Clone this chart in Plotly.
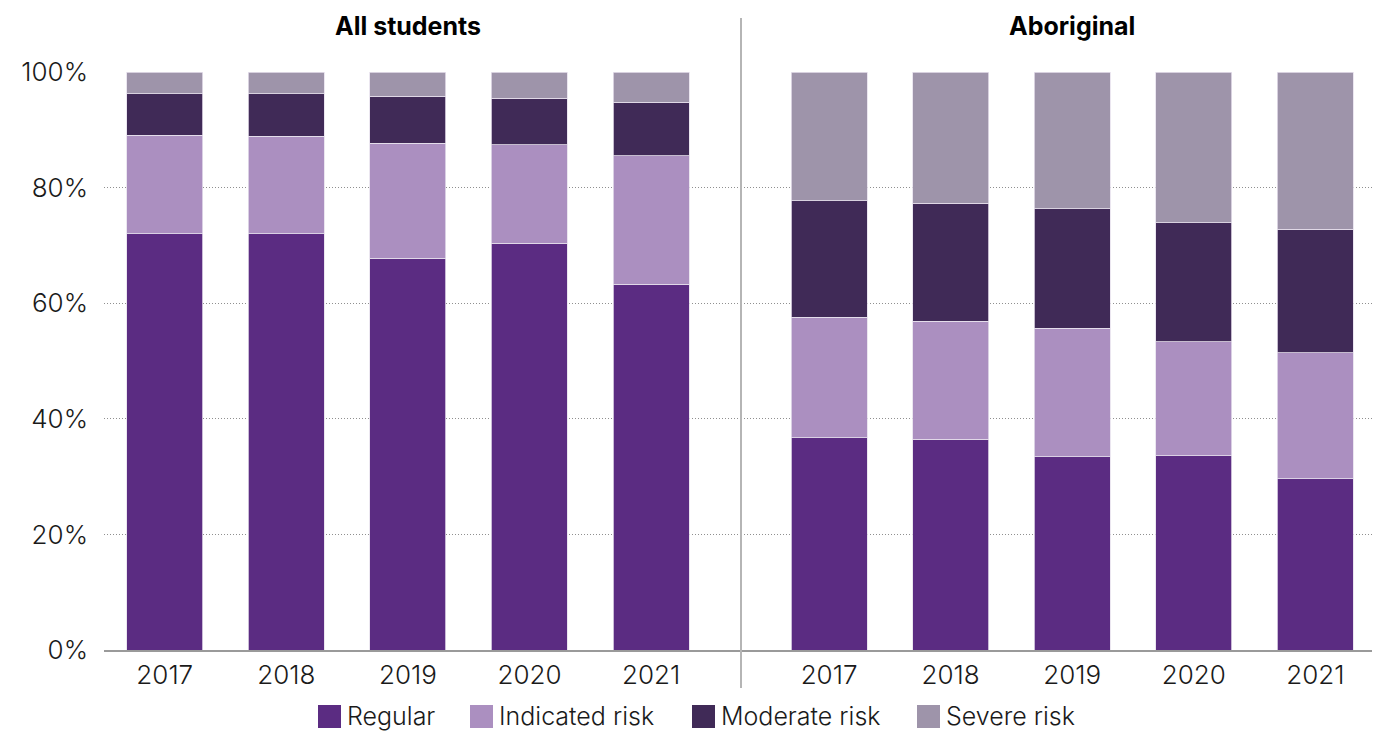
import plotly.graph_objects as go
from plotly.subplots import make_subplots

years = ["2017", "2018", "2019", "2020", "2021"]
panels = ["All students", "Aboriginal"]
series = ["Regular", "Indicated risk", "Moderate risk", "Severe risk"]
colors = ["#5B2C82", "#AB8FC0", "#402A57", "#9E94AA"]
y_ticks = [0, 20, 40, 60, 80, 100]
y_tick_labels = ["0%", "20%", "40%", "60%", "80%", "100%"]

# Share of students in each category (%), per year
all_regular = [72.0, 72.0, 67.8, 70.4, 63.3]
all_indicated = [17.1, 16.9, 19.9, 17.0, 22.2]
all_moderate = [7.1, 7.3, 8.1, 8.1, 9.3]
all_severe = [3.8, 3.8, 4.2, 4.5, 5.2]

abo_regular = [36.7, 36.5, 33.4, 33.6, 29.6]
abo_indicated = [20.9, 20.4, 22.3, 19.7, 21.8]
abo_moderate = [20.1, 20.4, 20.6, 20.6, 21.4]
abo_severe = [22.3, 22.7, 23.7, 26.1, 27.2]

panel_data = [
    [all_regular, all_indicated, all_moderate, all_severe],
    [abo_regular, abo_indicated, abo_moderate, abo_severe],
]

FONT = "Inter"
TXT = "#1a1a1a"
FS = 26
W, H = 1373, 733
ML, MR, MT, MB = 104, 1, 72, 83
PW, PH = W - ML - MR, H - MT - MB


def px_x(x):
    return (x - ML) / PW


def px_y(y):
    return (H - MB - y) / PH


fig = make_subplots(rows=1, cols=2, shared_yaxes=True, horizontal_spacing=0,
                    column_widths=[637, 631])

for p, data in enumerate(panel_data):
    for s, vals in enumerate(data):
        fig.add_trace(go.Bar(
            x=years, y=vals, name=series[s],
            marker=dict(color=colors[s], line=dict(color="#E6E0EC", width=0.8)),
            width=0.625, showlegend=False,
        ), row=1, col=p + 1)

fig.update_layout(
    barmode="stack",
    width=W, height=H,
    margin=dict(l=ML, r=MR, t=MT, b=MB, autoexpand=False),
    paper_bgcolor="white", plot_bgcolor="white",
    font=dict(family=FONT, size=FS, color=TXT, weight=300),
    showlegend=False,
)

ax_common = dict(showgrid=False, showline=True, linecolor="#9a9a9a", linewidth=1.5,
                 ticks="", ticklabelstandoff=1,
                 tickfont=dict(size=FS, family=FONT, color=TXT, weight=300))
fig.update_xaxes(range=[-0.5, 4.74], **ax_common, row=1, col=1)
fig.update_xaxes(range=[-0.724, 4.465], **ax_common, row=1, col=2)

fig.update_yaxes(range=[0, 100], tickvals=y_ticks, ticktext=y_tick_labels,
                 showgrid=True, gridcolor="#8f8f8f", gridwidth=1, griddash="1px,2px",
                 zeroline=False, showline=False, ticks="",
                 ticklabelstandoff=15,
                 tickfont=dict(size=FS, family=FONT, color=TXT, weight=300))

# Panel titles
for p, title in enumerate(panels):
    fig.add_annotation(
        x=2, y=1, xref="x" if p == 0 else "x2", yref="paper",
        yanchor="bottom", yshift=29, showarrow=False,
        text=f"<b>{title}</b>",
        font=dict(size=25, family=FONT, color="#000000", weight=700),
    )

# Divider between the two panels
fig.add_shape(type="line", xref="paper", yref="paper",
              x0=637 / PW, x1=637 / PW, y0=px_y(688), y1=px_y(18),
              line=dict(color="#b5b5b5", width=2))

# Legend row drawn with squares and labels
legend_left = [318, 470, 692, 917]
for s, name in enumerate(series):
    x0 = legend_left[s]
    fig.add_shape(type="rect", xref="paper", yref="paper",
                  x0=px_x(x0), x1=px_x(x0 + 23), y0=px_y(728), y1=px_y(705),
                  fillcolor=colors[s], line=dict(width=0))
    fig.add_annotation(x=px_x(x0 + 28), y=px_y(716), xref="paper", yref="paper",
                       xanchor="left", yanchor="middle", showarrow=False,
                       text=name, borderpad=0,
                       font=dict(size=25, family=FONT, color=TXT, weight=300))

fig.write_html("out.html")
